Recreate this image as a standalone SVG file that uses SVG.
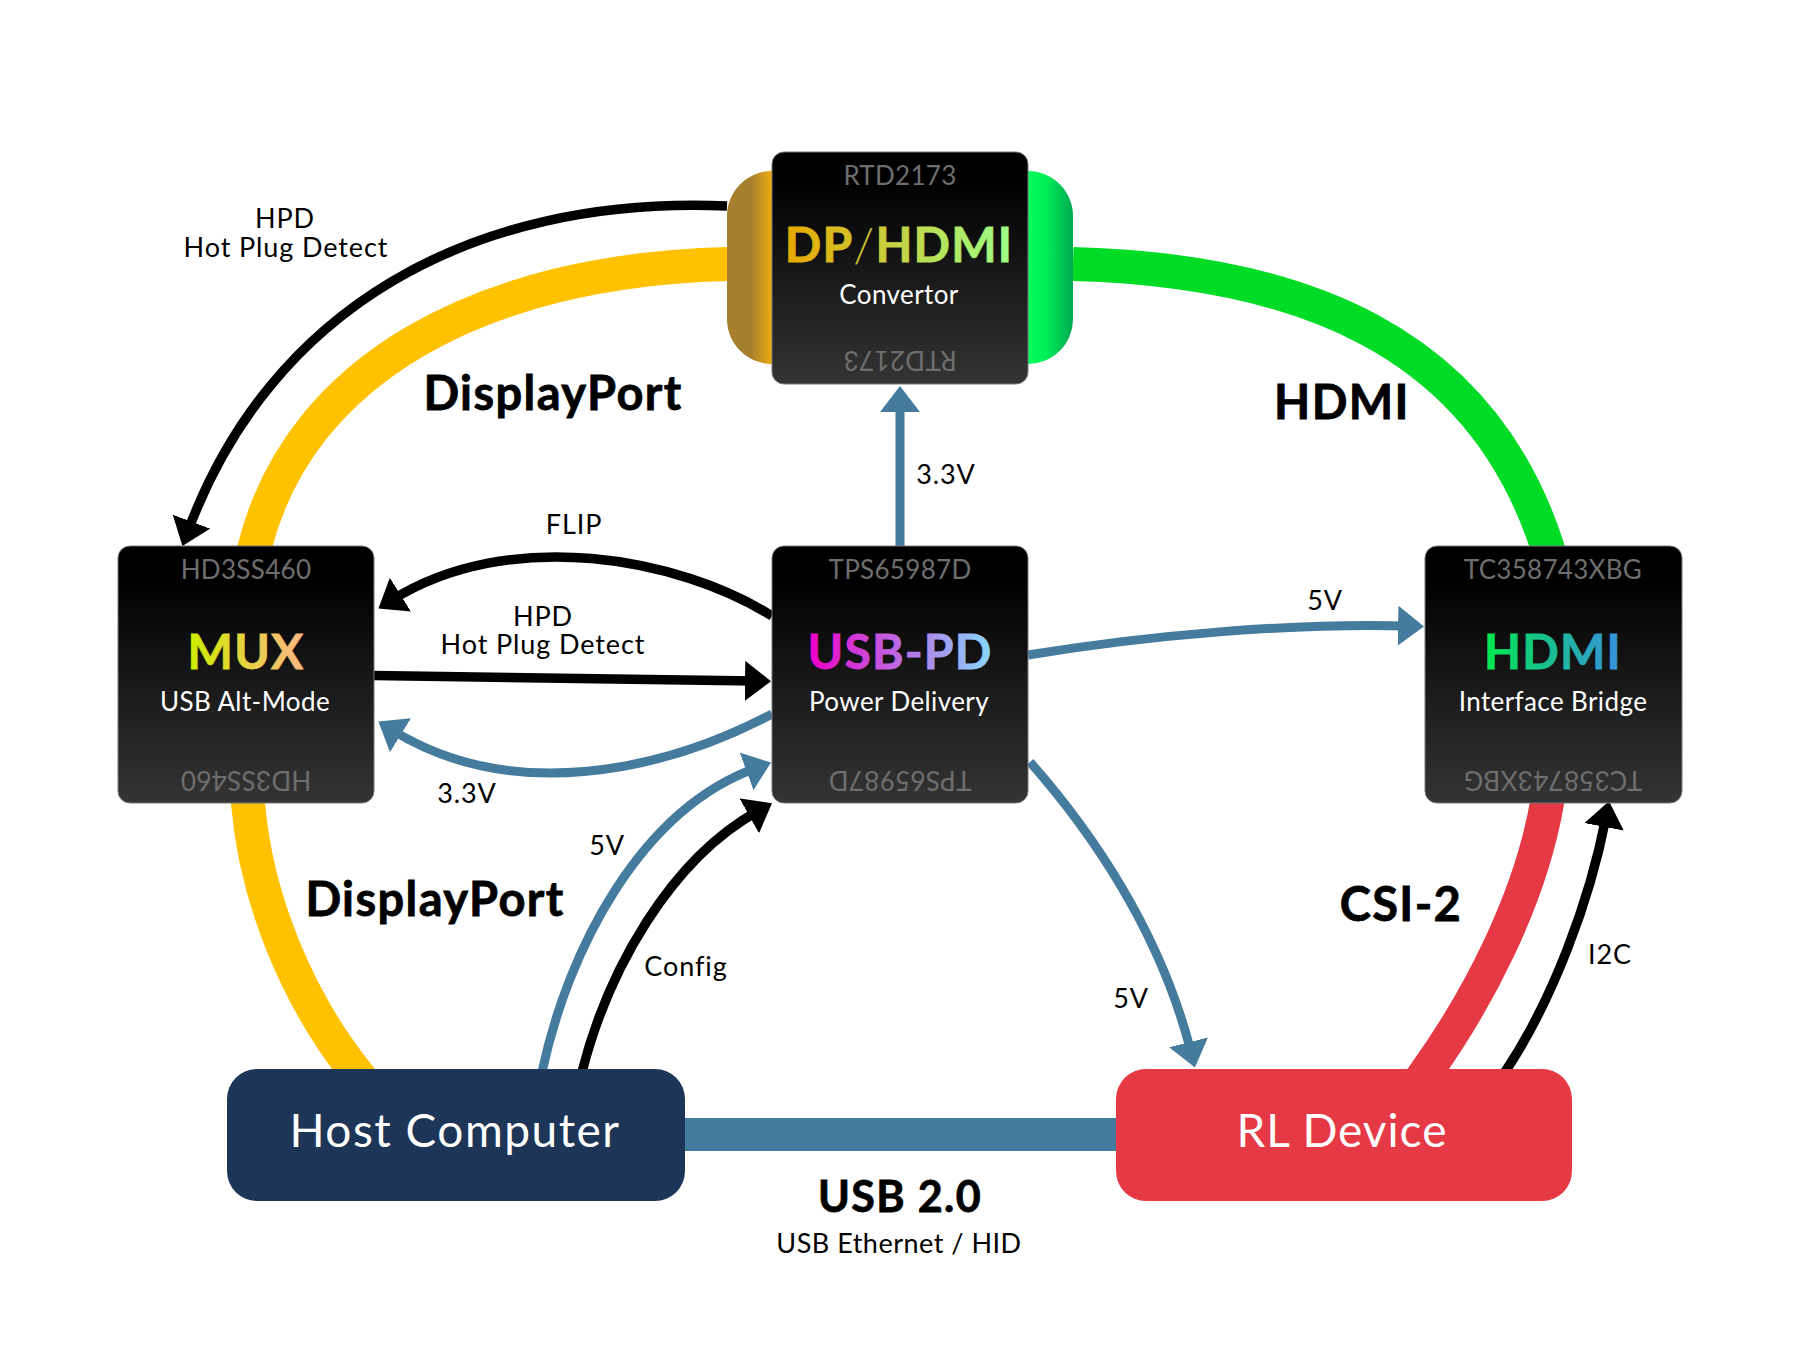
<svg xmlns="http://www.w3.org/2000/svg" width="1800" height="1351" viewBox="0 0 1800 1351">
<style>
text{font-family:"Lato","Noto Sans","Liberation Sans",sans-serif;text-anchor:middle}
.lbl{font-size:27px;fill:#000;letter-spacing:.9px}
.big{font-size:47px;font-weight:700;fill:#000;stroke:#000;stroke-width:.8px;letter-spacing:1.4px}
.part{font-size:26px;fill:#6E6E6E;letter-spacing:.3px}
.sub{font-size:26px;fill:#fff;letter-spacing:.4px}
.ttl{font-size:48px;font-weight:700;letter-spacing:1.200px;stroke-width:.8px}
.hostt{font-size:46px;fill:#fff;letter-spacing:1.5px}
.box{fill:url(#chip);stroke:#777;stroke-width:1}
.w{fill:none;stroke-linecap:butt}
.thick{stroke-width:34}
.k{stroke:#000;stroke-width:9.500;marker-end:url(#ak)}
.b{stroke:#457B9D;stroke-width:9;marker-end:url(#ab)}
</style>
<defs>
<linearGradient id="chip" x1="0" y1="0" x2="0" y2="1"><stop offset="0.12" stop-color="#000"/><stop offset="1" stop-color="#343434"/></linearGradient>
<linearGradient id="lobe" x1="0" y1="0" x2="1" y2="0"><stop offset="0" stop-color="#A67F2C"/><stop offset="0.07" stop-color="#A67F2C"/><stop offset="0.13" stop-color="#F0AC10"/><stop offset="0.87" stop-color="#00FF5C"/><stop offset="0.92" stop-color="#00F058"/><stop offset="1" stop-color="#00A850"/></linearGradient>
<linearGradient id="gdp" gradientUnits="userSpaceOnUse" x1="787" y1="0" x2="1011" y2="0"><stop offset="0" stop-color="#E8A800"/><stop offset="1" stop-color="#9DFF88"/></linearGradient>
<linearGradient id="gmux" gradientUnits="userSpaceOnUse" x1="188" y1="0" x2="305" y2="0"><stop offset="0" stop-color="#CDEE00"/><stop offset="1" stop-color="#FFB685"/></linearGradient>
<linearGradient id="gpd" gradientUnits="userSpaceOnUse" x1="809" y1="0" x2="991" y2="0"><stop offset="0" stop-color="#EE00C8"/><stop offset="1" stop-color="#88D8FF"/></linearGradient>
<linearGradient id="ghd" gradientUnits="userSpaceOnUse" x1="1486" y1="0" x2="1621" y2="0"><stop offset="0" stop-color="#00E84E"/><stop offset="1" stop-color="#3890E0"/></linearGradient>
<marker id="ak" markerUnits="userSpaceOnUse" markerWidth="28" markerHeight="40" refX="10" refY="20" orient="auto"><path d="M0 0L26 20L0 40Z" fill="#000"/></marker>
<marker id="ab" markerUnits="userSpaceOnUse" markerWidth="28" markerHeight="40" refX="10" refY="20" orient="auto"><path d="M0 0L26 20L0 40Z" fill="#457B9D"/></marker>
</defs>
<g id="connectors">
<path class="w thick" stroke="#FFC100" d="M728 264C480 270 300 370 255 546L250 566"/>
<path class="w thick" stroke="#00DC26" d="M1073 264C1300 270 1480 340 1547 546L1553 566"/>
<path class="w thick" stroke="#FFC100" d="M248 790L248 803C256 900 298 1000 358 1075L372 1092"/>
<path class="w thick" stroke="#E63946" d="M1547 790L1547 803C1530 900 1478 1000 1424 1075L1412 1092"/>
<path class="w" stroke="#457B9D" stroke-width="33" d="M685 1134.500H1116"/>
<path class="w k" d="M727 206C470 195 270 310 188 531"/>
<path class="w k" d="M772 616C680 558 510 526 392 600"/>
<path class="w k" d="M374 675.500L755 681"/>
<path class="w b" d="M772 714C660 773 510 803 392 730"/>
<path class="w b" d="M542 1072C568 950 640 810 756 768"/>
<path class="w k" d="M582 1072C608 970 670 860 758 811"/>
<path class="w b" d="M900 546V402"/>
<path class="w b" d="M1028 655C1150 635 1290 623 1408 626"/>
<path class="w b" d="M1030 762C1090 830 1160 930 1191 1052"/>
<path class="w k" d="M1505 1072C1553 1000 1590 900 1606 817"/>
</g>
<g id="labels">
<text class="lbl" x="285" y="228">HPD</text>
<text class="lbl" x="286" y="257">Hot Plug Detect</text>
<text class="big" x="553" y="410">DisplayPort</text>
<text class="big" x="1342" y="419">HDMI</text>
<text class="big" x="435" y="916">DisplayPort</text>
<text class="big" x="1401" y="921">CSI-2</text>
<text class="lbl" x="574" y="534">FLIP</text>
<text class="lbl" x="543" y="626">HPD</text>
<text class="lbl" x="543" y="654">Hot Plug Detect</text>
<text class="lbl" x="467" y="803">3.3V</text>
<text class="lbl" x="946" y="484">3.3V</text>
<text class="lbl" x="1325" y="610">5V</text>
<text class="lbl" x="607" y="855">5V</text>
<text class="lbl" x="686" y="976">Config</text>
<text class="lbl" x="1131" y="1008">5V</text>
<text class="lbl" x="1610" y="964">I2C</text>
<text class="big" x="900" y="1212" style="font-size:43px">USB 2.0</text>
<text class="lbl" x="899" y="1253" style="letter-spacing:.5px">USB Ethernet / HID</text>
</g>
<g id="node-dp-hdmi">
<rect x="727" y="171" width="346" height="193" rx="45" fill="url(#lobe)"/>
<rect class="box" x="772" y="152" width="256" height="232" rx="12"/>
<text class="part" x="900" y="185">RTD2173</text>
<text class="ttl" x="899" y="262" fill="url(#gdp)" stroke="url(#gdp)">DP<tspan font-weight="300" stroke="none">/</tspan>HDMI</text>
<text class="sub" x="899" y="304">Convertor</text>
<text class="part" x="900" y="351" transform="rotate(180 900 351)">RTD2173</text>
</g>
<g id="node-mux">
<rect class="box" x="118" y="546" width="256" height="257" rx="12"/>
<text class="part" x="246" y="579">HD3SS460</text>
<text class="ttl" x="246" y="669" fill="url(#gmux)" stroke="url(#gmux)">MUX</text>
<text class="sub" x="245" y="711">USB Alt-Mode</text>
<text class="part" x="246" y="771" transform="rotate(180 246 771)">HD3SS460</text>
</g>
<g id="node-usb-pd">
<rect class="box" x="772" y="546" width="256" height="257" rx="12"/>
<text class="part" x="900" y="579">TPS65987D</text>
<text class="ttl" x="900" y="669" fill="url(#gpd)" stroke="url(#gpd)">USB-PD</text>
<text class="sub" x="899" y="711">Power Delivery</text>
<text class="part" x="900" y="771" transform="rotate(180 900 771)">TPS65987D</text>
</g>
<g id="node-hdmi">
<rect class="box" x="1425" y="546" width="257" height="257" rx="12"/>
<text class="part" x="1553" y="579">TC358743XBG</text>
<text class="ttl" x="1553" y="669" fill="url(#ghd)" stroke="url(#ghd)">HDMI</text>
<text class="sub" x="1553" y="711">Interface Bridge</text>
<text class="part" x="1553" y="771" transform="rotate(180 1553 771)">TC358743XBG</text>
</g>
<g id="node-host">
<rect x="227" y="1069" width="458" height="132" rx="30" fill="#1D3557"/>
<text class="hostt" x="455" y="1147">Host Computer</text>
</g>
<g id="node-rl">
<rect x="1116" y="1069" width="456" height="132" rx="30" fill="#E63946"/>
<text class="hostt" x="1342" y="1147" style="letter-spacing:1px">RL Device</text>
</g>
</svg>
